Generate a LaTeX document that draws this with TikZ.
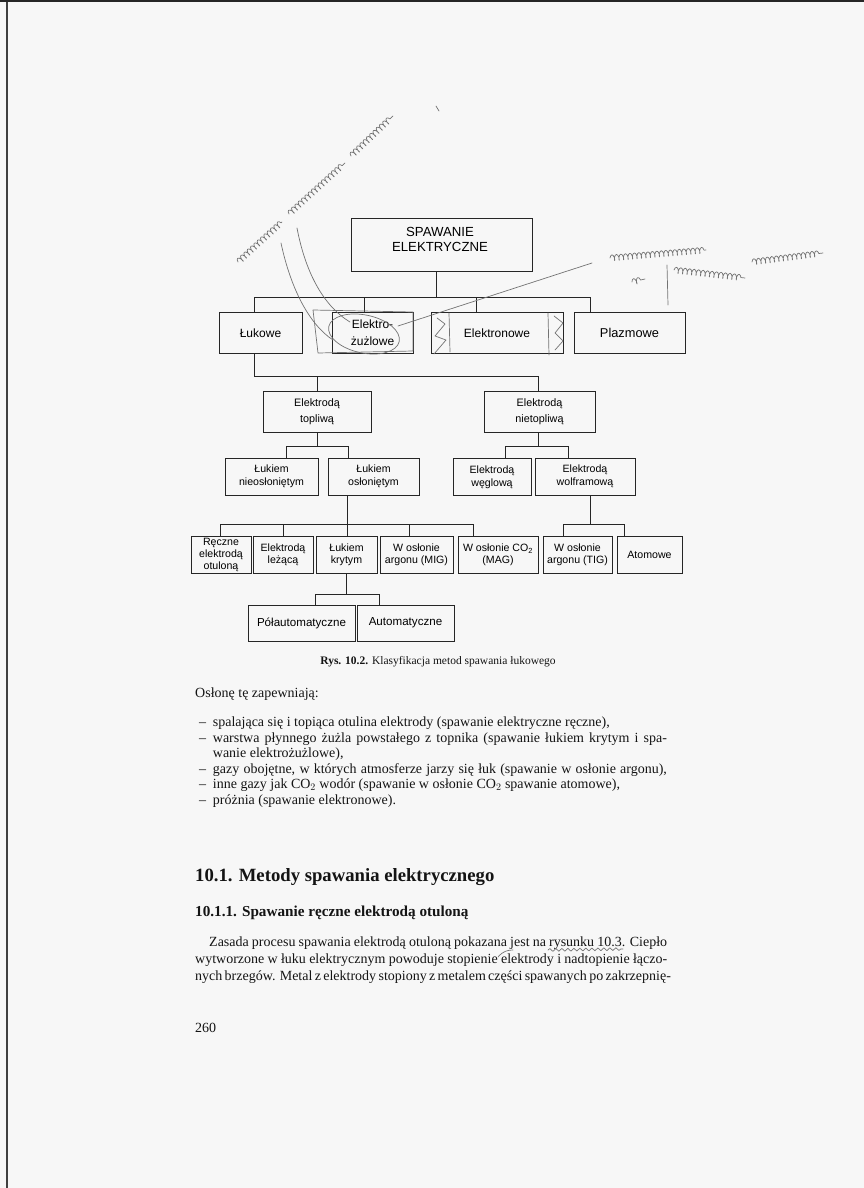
\documentclass[tikz,border=0pt]{standalone}
\usepackage{fontspec}
\setmainfont{Liberation Serif}
\setsansfont{Liberation Sans}
\usetikzlibrary{decorations.pathmorphing,calc}
\begin{document}
\begin{tikzpicture}[x=1pt,y=-1pt,
  bx/.style={draw=black!85, line width=0.8pt, inner sep=0pt, align=center,
             font=\sffamily\fontsize{10.6}{12.5}\selectfont},
  wire/.style={draw=black!85, line width=0.8pt},
  pen/.style={draw=black!55, line width=0.7pt, line cap=round, line join=round},
  scrib/.style={pen, decorate, decoration={coil, aspect=0.35, amplitude=3pt, segment length=4.5pt}},
  body/.style={anchor=base west, inner sep=0pt, text=black!92,
               font=\fontsize{14}{16}\selectfont},
  bodyc/.style={anchor=base, inner sep=0pt, text=black!92},
]
\useasboundingbox (0,0) rectangle (864,1188);
\fill[black!3] (0,0) rectangle (864,1188);
\fill[black!85] (0,0) rectangle (864,2.5);
\fill[black!75] (6,2.5) rectangle (8.2,1188);

% ---------- boxes ----------
\node[bx, minimum width=181pt, minimum height=53pt] (root) at (441.5,244.5) {};
\node[inner sep=0pt, align=center, font=\sffamily\fontsize{13.2}{15}\selectfont] (roottxt) at (440,239.5) {SPAWANIE\\ELEKTRYCZNE};

\tikzset{r2/.style={bx, minimum height=41pt, font=\sffamily\fontsize{12}{16.5}\selectfont}}
\node[r2, minimum width=83pt]  (lukowe) at (260.5,332.8) {Łukowe};
\node[r2, minimum width=81pt]  (elzuz)  at (372.5,332.8) {Elektro-\\żużlowe};
\node[r2, minimum width=132pt] (elektron) at (497,332.8) {Elektronowe};
\node[r2, minimum width=111pt, font=\sffamily\fontsize{12.8}{15}\selectfont] (plazm) at (629.5,332.8) {Plazmowe};

\tikzset{r3/.style={bx, minimum height=41pt, font=\sffamily\fontsize{10.8}{16}\selectfont}}
\node[r3, minimum width=108pt] (topl)    at (317,411.5) {Elektrodą\\topliwą};
\node[r3, minimum width=111pt] (nietopl) at (539.5,411.5) {Elektrodą\\nietopliwą};

\tikzset{r4/.style={bx, minimum height=37pt, font=\sffamily\fontsize{10.6}{12.7}\selectfont}}
\node[r4, minimum width=93pt]  (nieosl) at (271.5,476.5) {Łukiem\\nieosłoniętym};
\node[r4, minimum width=91pt]  (osl)    at (373.5,476.5) {Łukiem\\osłoniętym};
\node[r4, minimum width=78pt]  (wegl)   at (492,477)   {Elektrodą\\węglową};
\node[r4, minimum width=100pt] (wolf)   at (585,476.5) {Elektrodą\\wolframową};

\tikzset{r5/.style={bx, minimum height=36.5pt, font=\sffamily\fontsize{10.6}{12}\selectfont}}
\node[r5, minimum width=60pt] (reczne) at (221,555) {Ręczne\\elektrodą\\otuloną};
\node[r5, minimum width=60pt] (lezaca) at (283,555) {Elektrodą\\leżącą};
\node[r5, minimum width=61pt] (kryty)  at (346.5,555) {Łukiem\\krytym};
\node[r5, minimum width=73pt] (mig)    at (416.5,555) {W osłonie\\argonu (MIG)};
\node[r5, minimum width=80pt] (mag)    at (498,555) {W osłonie CO\textsubscript{2}\\(MAG)};
\node[r5, minimum width=69pt] (tig)    at (577.5,555) {W osłonie\\argonu (TIG)};
\node[r5, minimum width=65pt] (atom)   at (649.5,555) {Atomowe};

\tikzset{r6/.style={bx, minimum height=36pt, font=\sffamily\fontsize{11.6}{14}\selectfont}}
\node[r6, minimum width=107pt] (polauto) at (301.5,623) {Półautomatyczne};
\node[r6, minimum width=97pt]  (auto)    at (405.5,623) {Automatyczne};

% ---------- connectors ----------
\coordinate (b1)  at (436,297);
\coordinate (b1l) at (254,297);
\coordinate (b1a) at (364,297);
\coordinate (b1b) at (476,297);
\coordinate (b1r) at (590,297);
\draw[wire] (root.south -| b1) -- (b1);
\draw[wire] (b1l |- lukowe.north) -- (b1l) -- (b1r) -- (b1r |- plazm.north);
\draw[wire] (b1a) -- (b1a |- elzuz.north);
\draw[wire] (b1b) -- (b1b |- elektron.north);

\coordinate (b2l) at (254,376);
\coordinate (b2a) at (317,376);
\coordinate (b2r) at (538,376);
\draw[wire] (b2l |- lukowe.south) -- (b2l) -- (b2r) -- (b2r |- nietopl.north);
\draw[wire] (b2a) -- (b2a |- topl.north);

\coordinate (b3)  at (317,446);
\coordinate (b3l) at (286,446);
\coordinate (b3r) at (348,446);
\draw[wire] (b3 |- topl.south) -- (b3);
\draw[wire] (b3l |- nieosl.north) -- (b3l) -- (b3r) -- (b3r |- osl.north);

\coordinate (b4)  at (538,446);
\coordinate (b4l) at (505,446);
\coordinate (b4r) at (568,446);
\draw[wire] (b4 |- nietopl.south) -- (b4);
\draw[wire] (b4l |- wegl.north) -- (b4l) -- (b4r) -- (b4r |- wolf.north);

\coordinate (b5)  at (347,524);
\coordinate (b5l) at (220,524);
\coordinate (b5a) at (283,524);
\coordinate (b5c) at (409,524);
\coordinate (b5r) at (473,524);
\draw[wire] (b5 |- osl.south) -- (b5);
\draw[wire] (b5l |- reczne.north) -- (b5l) -- (b5r) -- (b5r |- mag.north);
\draw[wire] (b5a) -- (b5a |- lezaca.north);
\draw[wire] (b5) -- (b5 |- kryty.north);
\draw[wire] (b5c) -- (b5c |- mig.north);

\coordinate (b6)  at (590,524);
\coordinate (b6l) at (563,524);
\coordinate (b6r) at (624,524);
\draw[wire] (b6 |- wolf.south) -- (b6);
\draw[wire] (b6l |- tig.north) -- (b6l) -- (b6r) -- (b6r |- atom.north);

\coordinate (b7)  at (346,594);
\coordinate (b7l) at (315,594);
\coordinate (b7r) at (379,594);
\draw[wire] (b7 |- kryty.south) -- (b7);
\draw[wire] (b7l |- polauto.north) -- (b7l) -- (b7r) -- (b7r |- auto.north);

% ---------- caption and page text ----------
\node[bodyc, font=\fontsize{11.5}{13}\selectfont] (cap) at (438,664)
  {\textbf{Rys. 10.2.} Klasyfikacja metod spawania łukowego};

\node[body] (intro) at (195,697) {Osłonę tę zapewniają:};
\node[body] (d1) at (199,726.5) {–};
\node[body] (l1) at (212.7,726.5) {spalająca się i topiąca otulina elektrody (spawanie elektryczne ręczne),};
\node[body] (d2) at (199,742.5) {–};
\node[body] (l2) at (212.7,742.5) {\makebox[454pt][s]{warstwa płynnego żużla powstałego z topnika (spawanie łukiem krytym i spa-}};
\node[body] (l3) at (212.7,757.5) {wanie elektrożużlowe),};
\node[body] (d4) at (199,773) {–};
\node[body] (l4) at (212.7,773) {\makebox[454pt][s]{gazy obojętne, w których atmosferze jarzy się łuk (spawanie w osłonie argonu),}};
\node[body] (d5) at (199,788.5) {–};
\node[body] (l5) at (212.7,788.5) {inne gazy jak CO$_2$ wodór (spawanie w osłonie CO$_2$ spawanie atomowe),};
\node[body] (d6) at (199,804) {–};
\node[body] (l6) at (212.7,804) {próżnia (spawanie elektronowe).};

\node[body, font=\bfseries\fontsize{18.7}{22}\selectfont] (h1) at (195,881) {10.1. Metody spawania elektrycznego};
\node[body, font=\bfseries\fontsize{15.2}{18}\selectfont] (h2) at (195,916) {10.1.1. Spawanie ręczne elektrodą otuloną};

\node[body] (p1) at (209,946) {\makebox[458pt][s]{Zasada procesu spawania elektrodą otuloną pokazana jest na rysunku 10.3. Ciepło}};
\node[body] (p2) at (195,963) {\makebox[472pt][s]{wytworzone w łuku elektrycznym powoduje stopienie elektrody i nadtopienie łączo-}};
\node[body] (p3) at (195,980) {\makebox[472pt][s]{nych brzegów. Metal z elektrody stopiony z metalem części spawanych po zakrzepnię-}};

\node[body] (pg) at (195,1032) {260};

% ---------- handwritten pen marks ----------
\draw[scrib] (238,262) -- (282,222);
\draw[scrib] (289,214) -- (345,163);
\draw[scrib] (351,156) -- (393,116);
\draw[pen] (297,228) .. controls (305,270) and (322,305) .. (350,322);
\draw[pen] (281,243) .. controls (291,290) and (310,325) .. (333,340);
\draw[pen] (313,310) -- (413,312) -- (413,351) -- (318,353) -- cycle;
\draw[pen, rotate around={-12:(364,334)}] (364,334) ellipse (36pt and 19pt);
\draw[pen] (592,263) -- (398,326);
\draw[pen] (449,313) -- (450,352);
\draw[pen] (437,318) -- (445,324) -- (435,336) -- (446,340) -- (434,354);
\draw[pen] (548,313) -- (549,355);
\draw[pen] (554,316) -- (563,323) -- (555,333) -- (563,341) -- (555,350);
\draw[scrib] (610,258) -- (706,250);
\draw[scrib] (632,282) -- (645,279);
\draw[pen] (667,265) -- (668,305);
\draw[scrib] (674,270) -- (745,278);
\draw[scrib] (752,262) -- (823,253);
\draw[pen] (436,106) -- (439,111);
\draw[pen, decorate, decoration={snake, amplitude=1.4pt, segment length=6pt}] (548,950) -- (623,949);
\draw[pen] (498,957) .. controls (503,951) and (508,950) .. (513,950);
\end{tikzpicture}
\end{document}
